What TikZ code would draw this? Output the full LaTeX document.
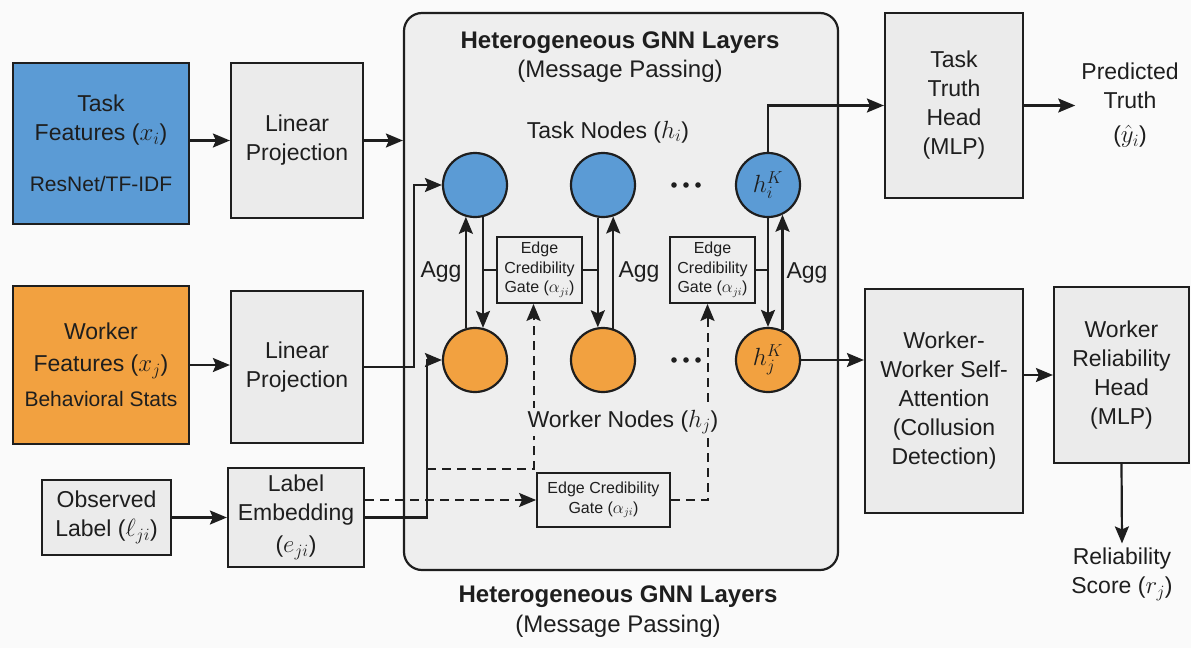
\documentclass[tikz,border=0pt]{standalone}
\usepackage{fontspec}
\setmainfont{Liberation Sans}
\usetikzlibrary{arrows.meta,calc}
\definecolor{bgc}{HTML}{FAFAFA}
\definecolor{boxg}{HTML}{EBEBEB}
\definecolor{gnng}{HTML}{EEEEEE}
\definecolor{tblue}{HTML}{5B9BD5}
\definecolor{worange}{HTML}{F2A140}
\definecolor{inkc}{HTML}{1E1E1E}
\begin{document}
\begin{tikzpicture}[x=1pt,y=-1pt,
  every node/.style={font=\fontsize{23}{29}\selectfont, text=inkc},
  box/.style={draw=inkc, line width=2.2pt, fill=boxg, align=center, inner sep=0pt},
  gatebox/.style={draw=inkc, line width=1.8pt, align=center, inner sep=0pt, font=\fontsize{16}{19.5}\selectfont},
  gnode/.style={circle, draw=inkc, line width=2.2pt, minimum size=64pt, inner sep=0pt, font=\fontsize{24}{24}\selectfont},
  plain/.style={align=center, inner sep=3pt},
  conn/.style={draw=inkc, line width=2.2pt},
  arr/.style={conn, -{Stealth[length=17pt,width=14pt,inset=3pt]}},
  dasharr/.style={draw=inkc, line width=2pt, dash pattern=on 9pt off 6pt, -{Stealth[length=17pt,width=14pt,inset=3pt]}},
]
\fill[bgc] (0,0) rectangle (1191,648);

% left column
\node[box, fill=tblue, minimum width=176pt, minimum height=161pt] (tf) at (101,143.5)
  {Task\\Features ($x_i$)\\[22pt]{\fontsize{21}{25}\selectfont ResNet/TF-IDF}};
\node[box, minimum width=132pt, minimum height=155pt] (lp1) at (297,140.5) {Linear\\Projection};
\node[box, fill=worange, minimum width=176pt, minimum height=158pt] (wf) at (101,365)
  {Worker\\[3pt]Features ($x_j$)\\[6pt]{\fontsize{21}{25}\selectfont Behavioral Stats}};
\node[box, minimum width=132pt, minimum height=152pt] (lp2) at (297,367) {Linear\\Projection};
\node[box, minimum width=129pt, minimum height=75pt] (ol) at (106.5,517.5) {Observed\\Label ($\ell_{ji}$)};
\node[box, minimum width=136pt, minimum height=99pt] (le) at (296,517.5) {Label\\Embedding\\[3pt]($e_{ji}$)};

% GNN container
\node[draw=inkc, fill=gnng, line width=2.2pt, rounded corners=18pt, minimum width=434pt, minimum height=557pt, inner sep=0pt] (gnn) at (621,291.5) {};
\node[plain, font=\fontsize{24}{29}\selectfont] (t1) at (620,57) {\textbf{Heterogeneous GNN Layers}\\(Message Passing)};
\node[plain] (tnl) at (608,132) {Task Nodes ($h_i$)};

\node[gnode, fill=tblue] (b1) at (475,185) {};
\node[gnode, fill=tblue] (b2) at (603,185) {};
\node[gnode, fill=tblue] (b3) at (768,185) {$h_i^K$};
\node[gnode, fill=worange] (o1) at (475,360) {};
\node[gnode, fill=worange] (o2) at (603,360) {};
\node[gnode, fill=worange] (o3) at (768,360) {$h_j^K$};

\coordinate (dt1) at (686,185);
\coordinate (dt2) at (686,360);
\foreach \c in {dt1,dt2}{
  \foreach \dx in {-12,0,12} \fill[inkc] ($(\c)+(\dx,0)$) circle (2.8pt);
}

\node[gatebox, minimum width=85pt, minimum height=66pt] (g1) at (539.5,270) {Edge\\Credibility\\Gate ($\alpha_{ji}$)};
\node[gatebox, minimum width=85pt, minimum height=66pt] (g2) at (712.5,270) {Edge\\Credibility\\Gate ($\alpha_{ji}$)};
\node[gatebox, minimum width=133pt, minimum height=54pt] (g3) at (603.5,500) {Edge Credibility\\Gate ($\alpha_{ji}$)};

\node[plain] (a1) at (441,272) {Agg};
\node[plain] (a2) at (639,272) {Agg};
\node[plain] (a3) at (807,273) {Agg};

% vertical message passing
\draw[arr] (o1.106) -- (b1.254);
\draw[arr] (b1.284) -- (o1.76);
\draw[arr] (b2.261) -- (o2.99);
\draw[arr] (o2.72) -- (b2.288);
\draw[arr] (b3.south) -- (o3.north);
\draw[arr] (o3.64) -- (b3.296);
\draw[conn] (g1.west) -- (g1.west -| b1.284);
\draw[conn] (g1.east) -- (g1.east -| b2.261);
\draw[conn] (g2.east) -- (g2.east -| b3.south);

% inputs
\draw[arr] (tf.east |- lp1.west) -- (lp1.west);
\draw[arr] (wf.east) -- (wf.east -| lp2.west);
\draw[arr] (ol.east) -- (le.west);
\draw[arr] (lp1.east) -- (lp1.east -| gnn.west);
\draw[arr] (lp2.east) -- ++(50,0) |- (b1.west);
\draw[arr] (le.east) -- ++(62,0) coordinate (lev) |- (o1.west);
\coordinate (br) at (lev |- 0,469);
\draw[dasharr] (g3.west -| le.east) -- (g3.west);
\draw[dasharr] (br) -| ([xshift=-6pt]g1.south);
\draw[dasharr] (g3.east) -| ([xshift=-5pt]g2.south);

\node[plain, fill=gnng, inner sep=2pt] (wnl) at (623,422) {Worker Nodes ($h_j$)};

% outputs
\node[box, minimum width=138pt, minimum height=185pt] (tth) at (954,105.5) {Task\\Truth\\Head\\(MLP)};
\node[plain, inner sep=6pt, font=\fontsize{23}{29}\selectfont] (pt) at (1130,105) {Predicted\\Truth\\[5pt]($\hat{y}_i$)};
\node[box, minimum width=158pt, minimum height=224pt] (wwsa) at (944,401) {Worker-\\Worker Self-\\Attention\\(Collusion\\Detection)};
\node[box, minimum width=135pt, minimum height=176pt] (wrh) at (1121.5,375) {Worker\\Reliability\\Head\\(MLP)};
\node[plain, inner sep=4pt] (score) at (1122,574) {Reliability\\Score ($r_j$)};

\draw[arr] (b3.north) |- (tth.west);
\draw[arr] (tth.east) -- (tth.east -| pt.west);
\draw[arr] (o3.east) -- (o3.east -| wwsa.west);
\draw[arr] (wrh.west -| wwsa.east) -- (wrh.west);
\draw[arr] (wrh.south) -- (score.north);

\node[plain, font=\fontsize{24}{30}\selectfont] (t2) at (618,612) {\textbf{Heterogeneous GNN Layers}\\(Message Passing)};
\end{tikzpicture}
\end{document}
